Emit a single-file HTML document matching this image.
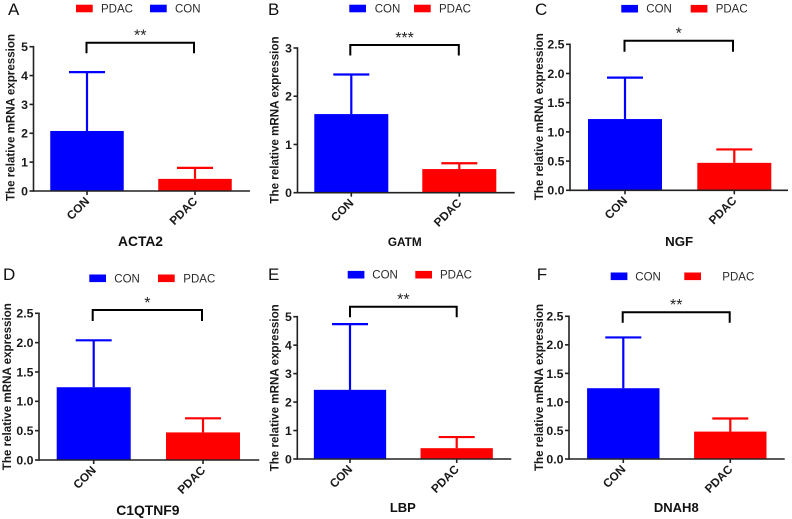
<!DOCTYPE html>
<html>
<head>
<meta charset="utf-8">
<title>Relative mRNA expression panels</title>
<style>
html,body{margin:0;padding:0;background:#fff;}
#figure{display:block;width:792px;height:519px;font-family:"Liberation Sans",Arial,sans-serif;}
.tick{font-size:12.3px;font-weight:700;fill:#1a1a1a;}
.ytitle{font-size:11.6px;font-weight:700;fill:#1a1a1a;}
.cat{font-size:11.8px;font-weight:700;fill:#1a1a1a;}
.legend{font-size:11.5px;fill:#2a2a2a;}
.gene{font-weight:700;fill:#111;}
.letter{font-size:17px;fill:#111;}
.star{font-size:16px;fill:#222;}
</style>
</head>
<body>
<svg id="figure" xmlns="http://www.w3.org/2000/svg" width="792" height="519" viewBox="0 0 792 519"></svg>
<script>
// ---- chart data ----
const panelLetters = ['A', 'B', 'C', 'D', 'E', 'F'];
const geneNames = ['ACTA2', 'GATM', 'NGF', 'C1QTNF9', 'LBP', 'DNAH8'];
const categories = ['CON', 'PDAC'];
const conMeans = [2.08, 1.63, 1.22, 1.24, 2.43, 1.24];
const conUpper = [4.12, 2.45, 1.93, 2.04, 4.74, 2.13];
const pdacMeans = [0.42, 0.49, 0.47, 0.47, 0.38, 0.48];
const pdacUpper = [0.80, 0.61, 0.70, 0.71, 0.77, 0.71];
const significance = ['**', '***', '*', '*', '**', '**'];
const yTickLabels = [
  ['0', '1', '2', '3', '4', '5'],
  ['0', '1', '2', '3'],
  ['0.0', '0.5', '1.0', '1.5', '2.0', '2.5'],
  ['0.0', '0.5', '1.0', '1.5', '2.0', '2.5'],
  ['0', '1', '2', '3', '4', '5'],
  ['0.0', '0.5', '1.0', '1.5', '2.0', '2.5']
];
const legendOrders = [
  ['PDAC', 'CON'],
  ['CON', 'PDAC'],
  ['CON', 'PDAC'],
  ['CON', 'PDAC'],
  ['CON', 'PDAC'],
  ['CON', 'PDAC']
];

// ---- page layout (not data) ----
const frames = [
  {axisX:33.5,top:46.7,bottom:191,end:250,first:87,step:108,barW:73.5,brTop:42.7,brDrop:10.5,brL:-0.5,brR:-1,yTitleX:11,yTitleY:117.5,geneY:246,geneSize:13.8,letterX:8,letterY:15,legendY:8.5,legend:[{sw:76,tx:101},{sw:150,tx:175}]},
  {axisX:297.5,top:48,bottom:192.7,end:514.7,first:351.3,step:108,barW:74,brTop:45,brDrop:10.5,brL:-1,brR:-0.5,yTitleX:275,yTitleY:120,geneY:246,geneSize:11.8,letterX:268,letterY:15,legendY:8.5,legend:[{sw:349.3,tx:374.7},{sw:414,tx:439}]},
  {axisX:570,top:44.3,bottom:190.3,end:788,first:625,step:109.3,barW:74,brTop:40.7,brDrop:11,brL:-0.5,brR:-1.3,yTitleX:539.7,yTitleY:116.7,geneY:246,geneSize:13.3,letterX:535,letterY:15,legendY:8.7,legend:[{sw:621.3,tx:646.3},{sw:690.7,tx:715.7}]},
  {axisX:39,top:313.3,bottom:460,end:259.3,first:93.7,step:109.3,barW:74,brTop:310,brDrop:11,brL:-1,brR:-1,yTitleX:7.3,yTitleY:386.7,geneY:515,geneSize:13.9,letterX:3,letterY:280,legendY:278.3,legend:[{sw:89.3,tx:114.3},{sw:158,tx:183.3}]},
  {axisX:297.3,top:316.7,bottom:459,end:511.3,first:350,step:106.7,barW:72.3,brTop:306.7,brDrop:10.5,brL:0,brR:0,yTitleX:275,yTitleY:387.8,geneY:512,geneSize:13,letterX:268,letterY:280,legendY:274.7,legend:[{sw:347.7,tx:372.3},{sw:415.3,tx:440}]},
  {axisX:569,top:316.3,bottom:459,end:784.7,first:623.3,step:107,barW:72.4,brTop:312.3,brDrop:10.5,brL:-0.6,brR:-0.6,yTitleX:539.7,yTitleY:387.5,geneY:512,geneSize:13,letterX:536.7,letterY:280,legendY:276.3,legend:[{sw:610.7,tx:635.3},{sw:684.3,tx:722.3}]}
];
const seriesColors = {CON:'#0000fe', PDAC:'#fe0000'};
const AXIS = '#222';

const svg = document.getElementById('figure');
const NS = 'http://www.w3.org/2000/svg';
function make(tag, attrs, parent, text) {
  const node = document.createElementNS(NS, tag);
  for (const k in attrs) node.setAttribute(k, attrs[k]);
  if (text !== undefined) node.textContent = text;
  parent.appendChild(node);
  return node;
}
function yScale(f, maxValue) {
  return function (v) { return f.bottom - (v / maxValue) * (f.bottom - f.top); };
}
function xScale(f) {
  return function (i) { return f.first + i * f.step; };
}

geneNames.forEach(function (gene, p) {
  const f = frames[p];
  const labels = yTickLabels[p];
  const y = yScale(f, Number(labels[labels.length - 1]));
  const x = xScale(f);
  const means = [conMeans[p], pdacMeans[p]];
  const uppers = [conUpper[p], pdacUpper[p]];

  const g = make('g', {}, svg);
  
  

  const letter = make('text', {x: f.letterX, y: f.letterY, class: 'letter'}, g, panelLetters[p]);
  
  

  legendOrders[p].forEach(function (name, i) {
    const item = f.legend[i];
    const swatch = make('rect', {x: item.sw, y: f.legendY - 3.8, width: 16.7, height: 7.6, fill: seriesColors[name]}, g);
    
    
    const label = make('text', {x: item.tx, y: f.legendY + 4, class: 'legend'}, g, name);
    
    
  });

  categories.forEach(function (cat, i) {
    const cx = x(i);
    const color = seriesColors[cat];
    const bar = make('rect', {x: cx - f.barW / 2, y: y(means[i]), width: f.barW, height: f.bottom - y(means[i]), fill: color}, g);
    
    
    const stem = make('line', {x1: cx, x2: cx, y1: y(means[i]), y2: y(uppers[i]), stroke: color, 'stroke-width': 2.2}, g);
    
    
    const cap = make('line', {x1: cx - 18, x2: cx + 18, y1: y(uppers[i]), y2: y(uppers[i]), stroke: color, 'stroke-width': 2.2}, g);
    
    
    const tick = make('line', {x1: cx, x2: cx, y1: f.bottom, y2: f.bottom + 4, stroke: AXIS, 'stroke-width': 1.6}, g);
    
    
    const tx = cx + 3;
    const ty = f.bottom + 11;
    const catLabel = make('text', {x: tx, y: ty, class: 'cat', 'text-anchor': 'end', transform: 'rotate(-45 ' + tx + ' ' + ty + ')'}, g, cat);
    
    
  });

  const yAxis = make('line', {x1: f.axisX, x2: f.axisX, y1: f.top - 0.8, y2: f.bottom + 0.8, stroke: AXIS, 'stroke-width': 1.6}, g);
  
  
  const xAxis = make('line', {x1: f.axisX, x2: f.end, y1: f.bottom, y2: f.bottom, stroke: AXIS, 'stroke-width': 1.6}, g);
  
  

  labels.forEach(function (lab) {
    const ty = y(Number(lab));
    const tick = make('line', {x1: f.axisX - 4, x2: f.axisX, y1: ty, y2: ty, stroke: AXIS, 'stroke-width': 1.6}, g);
    
    
    const tl = make('text', {x: f.axisX - 5.5, y: ty + 4.4, class: 'tick', 'text-anchor': 'end'}, g, lab);
    
    
  });

  const yTitle = make('text', {x: f.yTitleX, y: f.yTitleY, class: 'ytitle', 'text-anchor': 'middle', 'dominant-baseline': 'central', transform: 'rotate(-90 ' + f.yTitleX + ' ' + f.yTitleY + ')'}, g, 'The relative mRNA expression');
  
  

  const bl = x(0) + f.brL;
  const br = x(1) + f.brR;
  const bracket = make('path', {d: 'M' + bl + ' ' + (f.brTop + f.brDrop) + 'V' + f.brTop + 'H' + br + 'V' + (f.brTop + f.brDrop), fill: 'none', stroke: '#000', 'stroke-width': 2}, g);
  
  
  const stars = make('text', {x: (bl + br) / 2, y: f.brTop - 2.2, class: 'star', 'text-anchor': 'middle'}, g, significance[p]);
  
  

  const title = make('text', {x: (x(0) + x(1)) / 2 - 0.5, y: f.geneY, class: 'gene', 'text-anchor': 'middle', 'font-size': f.geneSize}, g, gene);
  
  
});
</script>
</body>
</html>
